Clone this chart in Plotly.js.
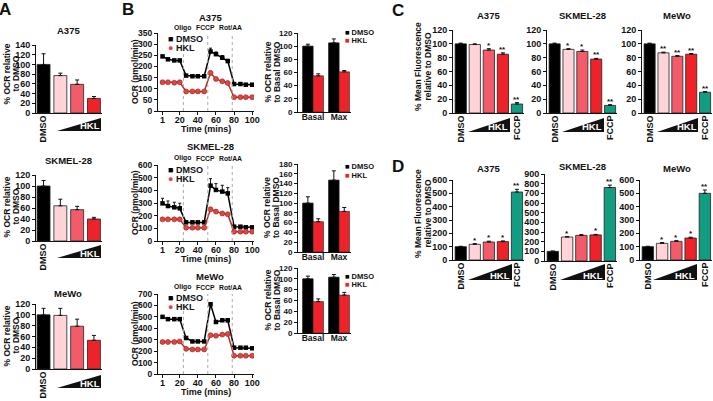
<!DOCTYPE html>
<html><head><meta charset="utf-8">
<script src="https://cdn.plot.ly/plotly-3.0.1.min.js"></script>
<style>html,body{margin:0;padding:0;background:#fff}#chart{width:713px;height:401px}</style>
</head><body><div id="chart"></div>
<script>
// ---------------- DATA ----------------
const doseCats = ['DMSO', 'HKL low', 'HKL mid', 'HKL high'];
const doseCatsF = ['DMSO', 'HKL low', 'HKL mid', 'HKL high', 'FCCP'];
const cellLines = ['A375', 'SKMEL-28', 'MeWo'];

// Panel A: % OCR relative to DMSO
const aA375 = [100, 77, 59, 30];
const aA375Err = [22, 5, 9, 4];
const aSKMEL = [100, 64, 57, 40];
const aSKMELErr = [10, 12, 6, 3];
const aMeWo = [100, 99, 79, 53];
const aMeWoErr = [12, 13, 13, 9];

// Panel B: OCR time course (pmol/min)
const timeMins = [1, 7, 14, 20, 27, 34, 40, 47, 54, 60, 67, 73, 80, 87, 93, 100];
const injectTimes = [24, 51, 78];
const injectLabels = ['Oligo', 'FCCP', 'Rot/AA'];
const bA375Dmso = [245, 232, 227, 227, 159, 156, 156, 156, 267, 255, 239, 224, 121, 121, 118, 118];
const bA375DmsoErr = [4, 4, 4, 4, 3, 3, 3, 3, 15, 10, 10, 8, 3, 3, 3, 3];
const bA375Hkl = [129, 129, 127, 129, 88, 88, 88, 88, 171, 144, 133, 126, 62, 62, 62, 62];
const bA375HklErr = [3, 3, 3, 3, 2, 2, 2, 2, 8, 5, 4, 4, 2, 2, 2, 2];
const bSKMELDmso = [297, 276, 266, 258, 147, 147, 147, 147, 437, 403, 390, 376, 113, 113, 108, 108];
const bSKMELDmsoErr = [40, 40, 40, 40, 12, 12, 12, 12, 55, 50, 50, 45, 8, 8, 8, 8];
const bSKMELHkl = [171, 171, 171, 171, 105, 105, 105, 105, 250, 232, 218, 211, 74, 74, 74, 74];
const bSKMELHklErr = [10, 10, 10, 10, 5, 5, 5, 5, 15, 12, 12, 12, 4, 4, 4, 4];
const bMeWoDmso = [500, 480, 480, 480, 315, 285, 285, 285, 610, 455, 470, 470, 230, 230, 230, 225];
const bMeWoDmsoErr = [8, 10, 12, 12, 8, 8, 8, 8, 15, 10, 12, 12, 5, 5, 5, 5];
const bMeWoHkl = [280, 280, 280, 285, 220, 215, 215, 215, 340, 335, 345, 350, 160, 160, 160, 160];
const bMeWoHklErr = [8, 8, 8, 8, 6, 6, 6, 6, 10, 10, 10, 10, 4, 4, 4, 4];

// Panel B bars: % OCR relative to basal DMSO
const bbCats = ['Basal', 'Max'];
const bbA375Dmso = [100, 105], bbA375DmsoErr = [3, 6];
const bbA375Hkl = [55, 61], bbA375HklErr = [3, 2];
const bbSKMELDmso = [100, 147], bbSKMELDmsoErr = [13, 19];
const bbSKMELHkl = [62, 83], bbSKMELHklErr = [6, 8];
const bbMeWoDmso = [100, 103], bbMeWoDmsoErr = [5, 5];
const bbMeWoHkl = [58, 70], bbMeWoHklErr = [5, 5];

// Panel C: % mean fluorescence relative to DMSO
const cA375 = [100, 99, 91, 85, 13], cA375Err = [1, 1, 2, 2, 2], cA375Sig = ['', '', '*', '**', '**'];
const cSKMEL = [100, 92, 89, 78, 11], cSKMELErr = [1, 1, 2, 1, 1], cSKMELSig = ['', '*', '*', '**', '**'];
const cMeWo = [100, 87, 82, 85, 30], cMeWoErr = [1, 1, 1, 1, 1], cMeWoSig = ['', '**', '**', '**', '**'];

// Panel D: % mean fluorescence relative to DMSO
const dA375 = [100, 118, 135, 138, 510], dA375Err = [3, 5, 6, 5, 20], dA375Sig = ['', '*', '*', '*', '**'];
const dSKMEL = [100, 248, 265, 270, 760], dSKMELErr = [3, 5, 8, 5, 25], dSKMELSig = ['', '*', '', '*', '**'];
const dMeWo = [100, 125, 140, 165, 500], dMeWoErr = [3, 6, 5, 6, 25], dMeWoSig = ['', '*', '*', '*', '**'];

// ---------------- STYLE / LAYOUT ----------------
const W = 713, H = 401;
const PX = x => x / W;
const PY = y => 1 - y / H;
const FONT = 'Liberation Sans, Arial, sans-serif';
const doseColors = ['#000000', '#FFD3D8', '#F25C6A', '#EE2229', '#129D83'];
const HKLRED = '#EE2229';

const data = [];
const layout = {
  width: W, height: H, margin: {l: 0, r: 0, t: 0, b: 0},
  paper_bgcolor: '#ffffff', plot_bgcolor: 'rgba(0,0,0,0)', showlegend: false,
  font: {family: FONT, size: 9, color: '#111', weight: 'bold'},
  shapes: [], annotations: []
};
const tf = size => ({family: FONT, size: size, color: '#111', weight: 'bold'});

function ax(k, xd, yd, xr, yr, dtick, tsize, xopts) {
  const s = k === 1 ? '' : String(k);
  layout['xaxis' + s] = Object.assign({
    domain: [PX(xd[0]), PX(xd[1])], range: xr, anchor: 'y' + s,
    showline: true, linecolor: '#111', linewidth: 1, showgrid: false, zeroline: false,
    ticks: '', fixedrange: true, tickfont: tf(tsize)
  }, xopts || {});
  layout['yaxis' + s] = {
    domain: [PY(yd[1]), PY(yd[0])], range: yr, anchor: 'x' + s,
    showline: true, linecolor: '#111', linewidth: 1, showgrid: false, zeroline: false,
    ticks: 'outside', ticklen: 3, tickwidth: 1, tickcolor: '#111', tickmode: 'linear', tick0: 0, dtick: dtick,
    tickfont: tf(tsize), fixedrange: true
  };
  return s;
}

function text(x, y, t, size, extra) {
  layout.annotations.push(Object.assign({
    xref: 'paper', yref: 'paper', x: PX(x), y: PY(y), text: t, showarrow: false,
    xanchor: 'center', yanchor: 'middle', font: tf(size)
  }, extra || {}));
}
function vtitle(x1, x2, cy, l1, l2, size) {
  text(x1, cy, l1, size, {textangle: -90});
  text(x2, cy, l2, size, {textangle: -90});
}

function triangle(x0, x1, yb, h, labelX) {
  layout.shapes.push({type: 'path', xref: 'paper', yref: 'paper',
    path: `M ${PX(x0)},${PY(yb)} L ${PX(x1)},${PY(yb)} L ${PX(x1)},${PY(yb - h)} Z`,
    fillcolor: '#111', line: {width: 0}});
  text(labelX, yb - 5, 'HKL', 9.5, {font: {family: FONT, size: 9.5, color: '#fff', weight: 'bold'}});
}

function barPanel(k, cats, vals, err, sig, xd, yd, yTop, dtick, hasF, tsize) {
  const n = cats.length;
  const xr = hasF ? [-0.55, 4.5] : [-0.45, 3.45];
  const tv = hasF ? [0, 4] : [0];
  const tt = hasF ? [cats[0], cats[4]] : [cats[0]];
  const s = ax(k, xd, yd, xr, [0, yTop], dtick, tsize,
    {tickmode: 'array', tickvals: tv, ticktext: tt, tickangle: -90, ticklabelstandoff: -2});
  const xs = cats.map((c, i) => i);
  data.push({type: 'bar', x: xs, y: vals, xaxis: 'x' + s, yaxis: 'y' + s, width: hasF ? 0.8 : 0.77,
    marker: {color: doseColors.slice(0, n), line: {color: '#222', width: 0.8}},
    error_y: {type: 'data', symmetric: false, array: err, arrayminus: err.map(() => 0), color: '#111', thickness: 1, width: 2},
    hoverinfo: 'none'});
  if (sig) {
    sig.forEach((t, i) => {
      if (!t) return;
      layout.annotations.push({xref: 'x' + s, yref: 'y' + s, x: xs[i], y: vals[i] + err[i], text: t,
        showarrow: false, yanchor: 'bottom', yshift: -3, font: tf(8)});
    });
  }
}

// ---- Panel A ----
const aDom = [36, 101.5];
barPanel(1, doseCats, aA375, aA375Err, null, aDom, [45, 113], 140, 20, false, 9);
barPanel(2, doseCats, aSKMEL, aSKMELErr, null, aDom, [175, 241], 120, 20, false, 9);
barPanel(3, doseCats, aMeWo, aMeWoErr, null, aDom, [304, 369], 120, 20, false, 9);
text(68, 31, cellLines[0], 9.5); text(68, 160, cellLines[1], 9.5); text(68, 293, cellLines[2], 9.5);
[[74, 131], [207, 258], [336, 388]].forEach(([cy, yb]) => {
  vtitle(6.5, 15.5, cy, '% OCR relative', 'to DMSO', 8.5);
  triangle(57, 101, yb, 13, 90);
});

// ---- Panel B line charts ----
function linePanel(k, yd, yTop, dtick, dm, dmE, hk, hkE, title, titleY, legY) {
  const s = ax(k, [158, 254], yd, [-4, 102], [0, yTop], dtick, 8.5,
    {ticks: 'outside', ticklen: 3, tickwidth: 1, tickcolor: '#111', tickmode: 'array',
     tickvals: [1, 20, 40, 60, 80, 100], ticklabelstandoff: -3, tickfont: tf(9)});
  const shifts = [-1, -2, -2];
  injectTimes.forEach((t, i) => {
    layout.shapes.push({type: 'line', xref: 'x' + s, yref: 'y' + s + ' domain', x0: t, x1: t, y0: 0, y1: 1,
      line: {color: '#aaa', width: 1, dash: 'dot'}});
    layout.annotations.push({xref: 'x' + s, yref: 'paper', x: t, y: PY(titleY + 11), xshift: shifts[i], text: injectLabels[i],
      showarrow: false, xanchor: 'center', yanchor: 'middle', font: tf(6.8)});
  });
  data.push({type: 'scatter', mode: 'lines+markers', x: timeMins, y: dm, xaxis: 'x' + s, yaxis: 'y' + s,
    line: {color: '#000', width: 1.5}, marker: {symbol: 'square', size: 4.5, color: '#000'},
    error_y: {type: 'data', symmetric: false, array: dmE, arrayminus: dmE.map(() => 0), color: '#111', thickness: 1, width: 1.5}, hoverinfo: 'none'});
  data.push({type: 'scatter', mode: 'lines+markers', x: timeMins, y: hk, xaxis: 'x' + s, yaxis: 'y' + s,
    line: {color: '#A8322D', width: 1.5}, marker: {symbol: 'circle', size: 5, color: '#DE4640', line: {color: '#9A2420', width: 0.6}},
    error_y: {type: 'data', symmetric: false, array: hkE, arrayminus: hkE.map(() => 0), color: '#A8322D', thickness: 1, width: 1.5}, hoverinfo: 'none'});
  const cy = (yd[0] + yd[1]) / 2;
  text(210, titleY, title, 9.5);
  text(135, cy, 'OCR (pmol/min)', 8.5, {textangle: -90});
  text(206, yd[1] + 18, 'Time (mins)', 9);
  text(166, legY, '<span style="color:#000">■</span> DMSO', 9, {xanchor: 'left'});
  text(166, legY + 8.5, '<span style="color:#DE4640">●</span> HKL', 9, {xanchor: 'left'});
}
linePanel(4, [33, 111], 350, 50, bA375Dmso, bA375DmsoErr, bA375Hkl, bA375HklErr, cellLines[0], 17, 39);
linePanel(5, [165, 241], 600, 100, bSKMELDmso, bSKMELDmsoErr, bSKMELHkl, bSKMELHklErr, cellLines[1], 147, 170);
linePanel(6, [294, 374], 700, 100, bMeWoDmso, bMeWoDmsoErr, bMeWoHkl, bMeWoHklErr, cellLines[2], 276, 298);

// ---- Panel B bar charts ----
function groupPanel(k, yd, yTop, dm, dmE, hk, hkE, legY) {
  const s = ax(k, [298, 351], yd, [-0.58, 1.46], [0, yTop], 20, 8,
    {tickmode: 'array', tickvals: [0, 1], ticktext: bbCats, tickfont: tf(8.5), ticklabelstandoff: -3});
  const xs = bbCats.map((c, i) => i);
  data.push({type: 'bar', x: xs, y: dm, xaxis: 'x' + s, yaxis: 'y' + s, width: 0.4, offset: -0.4,
    marker: {color: '#000', line: {color: '#111', width: 0.8}},
    error_y: {type: 'data', symmetric: false, array: dmE, arrayminus: [0, 0], color: '#111', thickness: 1, width: 2}, hoverinfo: 'none'});
  data.push({type: 'bar', x: xs, y: hk, xaxis: 'x' + s, yaxis: 'y' + s, width: 0.4, offset: 0,
    marker: {color: HKLRED, line: {color: '#222', width: 0.6}},
    error_y: {type: 'data', symmetric: false, array: hkE, arrayminus: [0, 0], color: '#111', thickness: 1, width: 2}, hoverinfo: 'none'});
  const cy = (yd[0] + yd[1]) / 2;
  vtitle(267, 276, cy, '% OCR relative', 'to Basal DMSO', 8.5);
  text(343, legY, '<span style="color:#000">■</span> DMSO', 7.5, {xanchor: 'left'});
  text(343, legY + 8, '<span style="color:' + HKLRED + '">■</span> HKL', 7.5, {xanchor: 'left'});
}
groupPanel(7, [33, 112], 120, bbA375Dmso, bbA375DmsoErr, bbA375Hkl, bbA375HklErr, 33);
groupPanel(8, [164, 252], 180, bbSKMELDmso, bbSKMELDmsoErr, bbSKMELHkl, bbSKMELHklErr, 167);
groupPanel(9, [268, 333], 120, bbMeWoDmso, bbMeWoDmsoErr, bbMeWoHkl, bbMeWoHklErr, 276);

// ---- Panel C ----
barPanel(10, doseCatsF, cA375, cA375Err, cA375Sig, [453, 524], [30, 113], 120, 20, true, 9);
barPanel(11, doseCatsF, cSKMEL, cSKMELErr, cSKMELSig, [547, 617], [30, 113], 120, 20, true, 9);
barPanel(12, doseCatsF, cMeWo, cMeWoErr, cMeWoSig, [642, 712], [30, 113], 120, 20, true, 9);
text(488, 16, cellLines[0], 9.5); text(582, 16, cellLines[1], 9.5); text(677, 16, cellLines[2], 9.5);
vtitle(418, 427.5, 67, '% Mean Fluorescence', 'relative to DMSO', 8.5);
triangle(468, 510, 132, 14, 498);
triangle(562, 604, 132, 14, 592);
triangle(657, 698, 132, 14, 687);

// ---- Panel D ----
barPanel(13, doseCatsF, dA375, dA375Err, dA375Sig, [453, 524], [180, 260], 600, 100, true, 9);
barPanel(14, doseCatsF, dSKMEL, dSKMELErr, dSKMELSig, [545, 617], [174, 261], 900, 100, true, 9);
barPanel(15, doseCatsF, dMeWo, dMeWoErr, dMeWoSig, [640, 712], [180, 260], 600, 100, true, 9);
text(488, 168, cellLines[0], 9.5); text(582, 166, cellLines[1], 9.5); text(677, 168, cellLines[2], 9.5);
vtitle(418, 427.5, 214, '% Mean Fluorescence', 'relative to DMSO', 8.5);
triangle(468, 512, 280, 16, 500);
triangle(560, 605, 280, 16, 593);
triangle(653, 697, 280, 16, 685);

// ---- Panel letters ----
text(5, 9, 'A', 17); text(128, 9, 'B', 17); text(398, 10, 'C', 17); text(398, 166, 'D', 17);

Plotly.newPlot('chart', data, layout, {staticPlot: true, displayModeBar: false});
</script></body></html>
